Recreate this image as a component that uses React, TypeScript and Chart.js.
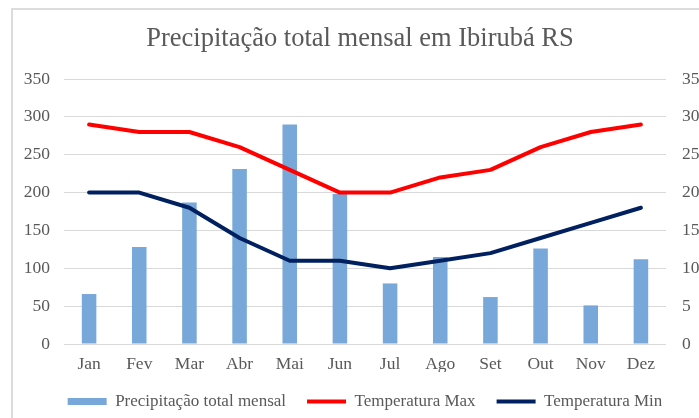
import React, { useEffect, useRef } from "react";
import { Chart, registerables } from "chart.js";

Chart.register(...registerables);

const months = ["Jan", "Fev", "Mar", "Abr", "Mai", "Jun", "Jul", "Ago", "Set", "Out", "Nov", "Dez"];
const precipitacao = [66, 128, 187, 231, 290, 198, 80, 115, 62, 126, 51, 112];
const tempMax = [29, 28, 28, 26, 23, 20, 20, 22, 23, 26, 28, 29];
const tempMin = [20, 20, 18, 14, 11, 11, 10, 11, 12, 14, 16, 18];
const leftTicks = { min: 0, max: 350, step: 50 };
const rightTicks = { min: 0, max: 35, step: 5 };

const titleText = "Precipitação total mensal em Ibirubá RS";
const seriesNames = ["Precipitação total mensal", "Temperatura Max", "Temperatura Min"];

const TEXT = "#595959";
const GRID = "#d9d9d9";
const FONT = "'Liberation Serif', 'Times New Roman', serif";

export default function App() {
  const ref = useRef<HTMLCanvasElement | null>(null);

  useEffect(() => {
    if (!ref.current) return;
    const shiftLegend = {
      id: "shiftLegend",
      afterLayout(chart: any) {
        const l = chart.legend;
        if (l) {
          l.left += 5;
          l.right += 5;
        }
      },
    };
    const chart = new Chart(ref.current, {
      type: "bar",
      data: {
        labels: months,
        datasets: [
          {
            type: "bar",
            label: seriesNames[0],
            data: precipitacao,
            backgroundColor: "#78a8da",
            borderWidth: 0,
            barPercentage: 0.29,
            categoryPercentage: 1,
            yAxisID: "y",
            order: 1,
          } as any,
          {
            type: "line",
            label: seriesNames[1],
            data: tempMax,
            borderColor: "#ff0000",
            backgroundColor: "#ff0000",
            borderWidth: 4,
            pointRadius: 0,
            tension: 0,
            borderCapStyle: "round",
            borderJoinStyle: "round",
            yAxisID: "y1",
            order: 0,
          },
          {
            type: "line",
            label: seriesNames[2],
            data: tempMin,
            borderColor: "#002060",
            backgroundColor: "#002060",
            borderWidth: 4,
            pointRadius: 0,
            tension: 0,
            borderCapStyle: "round",
            borderJoinStyle: "round",
            yAxisID: "y1",
            order: 0,
          },
        ],
      },
      options: {
        responsive: false,
        animation: false,
        layout: { padding: 0 },
        plugins: {
          tooltip: { enabled: false },
          title: {
            display: true,
            text: titleText,
            color: TEXT,
            font: { family: FONT, size: 26.5, weight: "normal", lineHeight: 1.2 },
            padding: { top: 23.5, bottom: 23.7 },
          },
          legend: {
            position: "bottom",
            labels: {
              color: TEXT,
              font: { family: FONT, size: 17 },
              usePointStyle: true,
              pointStyleWidth: 39,
              boxHeight: 7,
              padding: 21,
              sort: (a: any, b: any) => a.datasetIndex - b.datasetIndex,
              generateLabels: (c: any) => {
                const items = (Chart.defaults.plugins.legend.labels as any).generateLabels(c);
                items.forEach((it: any) => {
                  const ds: any = c.data.datasets[it.datasetIndex];
                  if (ds.type === "bar") {
                    it.pointStyle = "rect";
                    it.lineWidth = 0;
                    it.fillStyle = ds.backgroundColor;
                    it.strokeStyle = ds.backgroundColor;
                  } else {
                    it.pointStyle = "line";
                    it.lineWidth = 4;
                    it.strokeStyle = ds.borderColor;
                    it.fillStyle = ds.borderColor;
                  }
                  it.fontColor = TEXT;
                });
                return items;
              },
            },
          },
        },
        scales: {
          x: {
            offset: true,
            grid: { display: false, drawTicks: false },
            border: { display: false },
            ticks: { color: TEXT, font: { family: FONT, size: 17.5 }, padding: 10, maxRotation: 0 },
            afterFit: (s: any) => {
              s.height = 28;
            },
          },
          y: {
            position: "left",
            min: leftTicks.min,
            max: leftTicks.max,
            ticks: { stepSize: leftTicks.step, color: TEXT, font: { family: FONT, size: 17.5 }, padding: 14 },
            grid: { color: GRID, lineWidth: 1, drawTicks: false },
            border: { display: false },
            afterFit: (s: any) => {
              s.width = 64;
            },
          },
          y1: {
            position: "right",
            min: rightTicks.min,
            max: rightTicks.max,
            ticks: { stepSize: rightTicks.step, color: TEXT, font: { family: FONT, size: 17.5 }, padding: 16 },
            grid: { display: false, drawTicks: false },
            border: { display: false },
            afterFit: (s: any) => {
              s.width = 54;
            },
          },
        },
      },
      plugins: [shiftLegend],
    });
    return () => chart.destroy();
  }, []);

  return (
    <div
      style={{
        position: "absolute",
        left: 0,
        top: 0,
        width: 699,
        height: 418,
        overflow: "hidden",
        background: "#fff",
      }}
    >
      <canvas ref={ref} width={720} height={420} style={{ position: "absolute", left: 0, top: 0, display: "block" }} />
      <div
        style={{
          position: "absolute",
          left: 11,
          top: 8,
          width: 800,
          height: 600,
          borderLeft: "2px solid #dcdcdc",
          borderTop: "2px solid #dcdcdc",
          pointerEvents: "none",
        }}
      />
    </div>
  );
}
